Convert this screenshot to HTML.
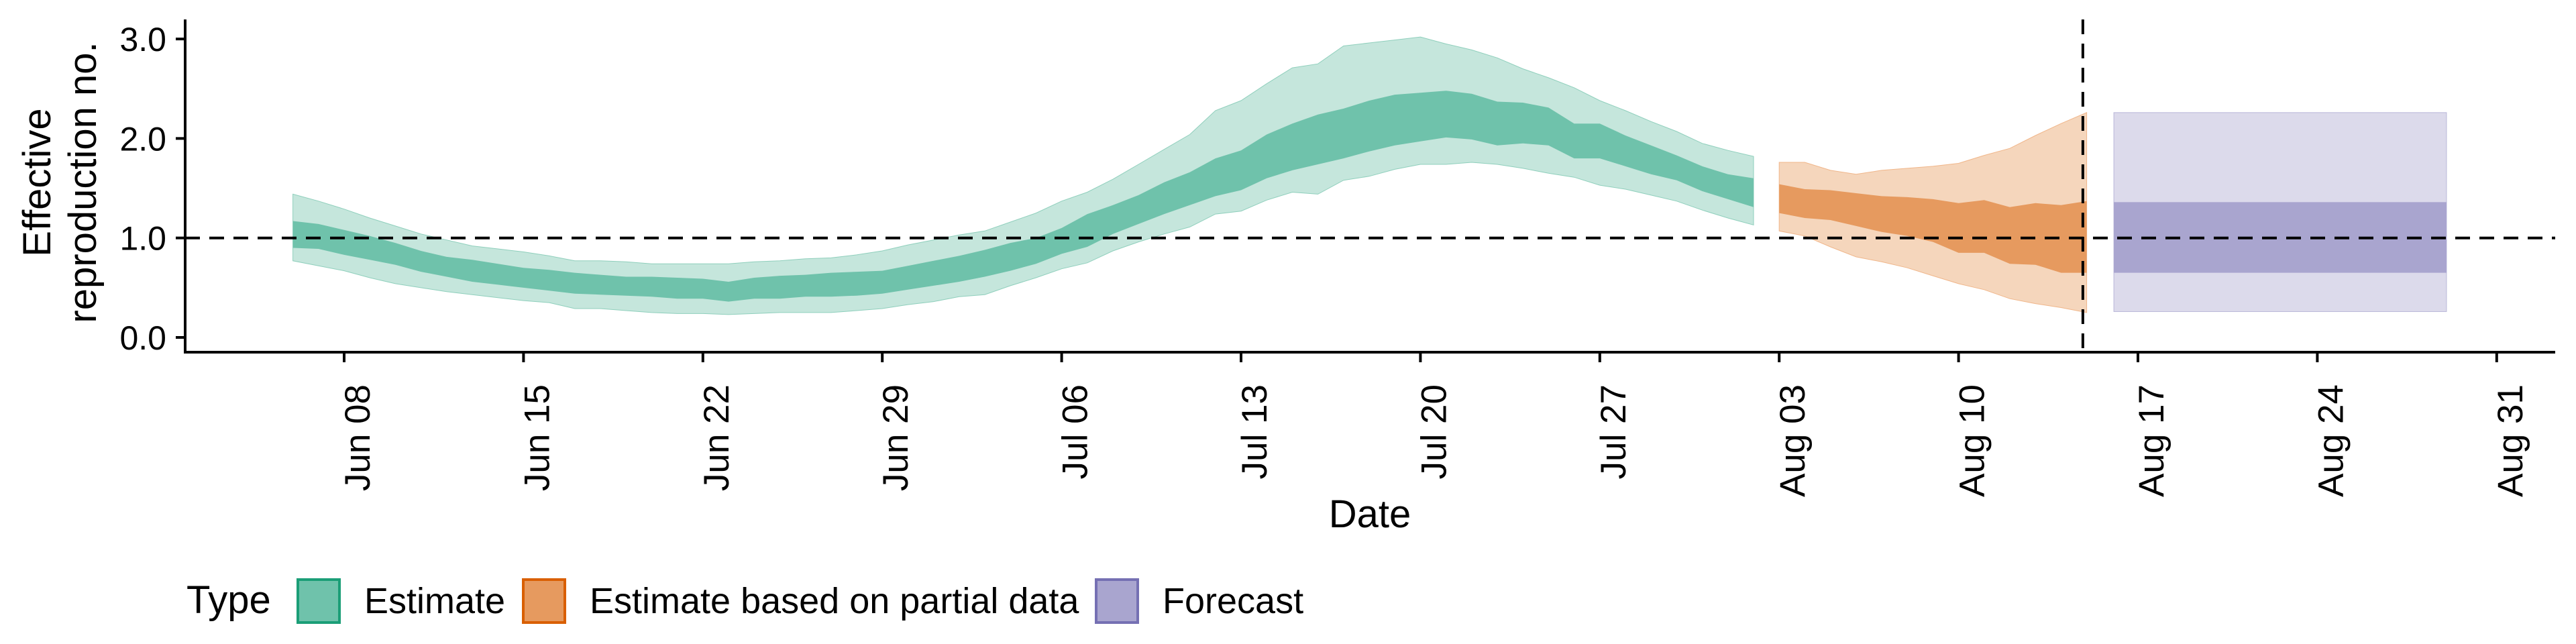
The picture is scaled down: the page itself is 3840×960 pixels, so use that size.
<!DOCTYPE html>
<html><head><meta charset="utf-8"><style>
html,body{margin:0;padding:0;background:#fff;}
svg{display:block;font-family:"Liberation Sans",sans-serif;}
</style></head><body>
<svg id="chart" width="3840" height="960" viewBox="0 0 3840 960" xmlns="http://www.w3.org/2000/svg">
<g id="plot"></g>
</svg>
<script>
// ---- data ----
const estDays = [-2,-1,0,1,2,3,4,5,6,7,8,9,10,11,12,13,14,15,16,17,18,19,20,21,22,23,24,25,26,27,28,29,30,31,32,33,34,35,36,37,38,39,40,41,42,43,44,45,46,47,48,49,50,51,52,53,54,55];
const estUpper90 = [1.44,1.37,1.29,1.20,1.12,1.04,0.98,0.92,0.89,0.86,0.82,0.77,0.77,0.76,0.74,0.74,0.74,0.74,0.76,0.77,0.79,0.80,0.83,0.87,0.93,0.98,1.03,1.07,1.16,1.25,1.37,1.46,1.59,1.74,1.89,2.04,2.28,2.38,2.55,2.71,2.75,2.93,2.96,2.99,3.02,2.95,2.89,2.81,2.70,2.61,2.51,2.38,2.28,2.17,2.07,1.95,1.88,1.82];
const estUpper50 = [1.17,1.14,1.08,1.02,0.95,0.87,0.81,0.78,0.74,0.70,0.68,0.65,0.63,0.61,0.61,0.60,0.59,0.56,0.60,0.62,0.63,0.65,0.66,0.67,0.72,0.77,0.82,0.88,0.95,1.00,1.10,1.24,1.33,1.43,1.56,1.66,1.80,1.88,2.04,2.15,2.24,2.30,2.38,2.44,2.46,2.48,2.45,2.37,2.36,2.31,2.15,2.15,2.03,1.93,1.83,1.72,1.64,1.60];
const estLower50 = [0.90,0.89,0.83,0.78,0.73,0.66,0.61,0.56,0.53,0.50,0.47,0.44,0.43,0.42,0.41,0.39,0.39,0.36,0.39,0.39,0.41,0.41,0.42,0.44,0.48,0.52,0.56,0.61,0.67,0.74,0.84,0.91,1.04,1.14,1.24,1.33,1.42,1.48,1.60,1.68,1.74,1.80,1.87,1.93,1.97,2.01,1.99,1.93,1.95,1.93,1.80,1.80,1.72,1.64,1.58,1.47,1.39,1.31];
const estLower90 = [0.77,0.72,0.67,0.60,0.54,0.50,0.46,0.43,0.40,0.37,0.35,0.29,0.29,0.27,0.25,0.24,0.24,0.23,0.24,0.25,0.25,0.25,0.27,0.29,0.33,0.36,0.41,0.43,0.52,0.60,0.69,0.75,0.87,0.96,1.04,1.11,1.24,1.27,1.38,1.46,1.44,1.58,1.62,1.69,1.74,1.74,1.76,1.74,1.70,1.65,1.61,1.53,1.49,1.43,1.37,1.28,1.20,1.13];
const partDays = [56,57,58,59,60,61,62,63,64,65,66,67,68];
const partUpper90 = [1.76,1.76,1.68,1.64,1.68,1.70,1.72,1.75,1.83,1.90,2.03,2.15,2.26];
const partUpper50 = [1.54,1.49,1.48,1.45,1.42,1.41,1.39,1.35,1.38,1.31,1.35,1.33,1.37];
const partLower50 = [1.25,1.20,1.18,1.12,1.06,1.02,0.96,0.85,0.85,0.74,0.73,0.65,0.65];
const partLower90 = [1.07,1.02,0.91,0.81,0.76,0.70,0.62,0.54,0.48,0.39,0.34,0.30,0.25];
const fcDays = [69.06,82.04];
const fcBands = [2.26,1.36,0.65,0.26]; // upper90, upper50, lower50, lower90
const tickDays = [0,7,14,21,28,35,42,49,56,63,70,77,84];
const tickLabels = ["Jun 08","Jun 15","Jun 22","Jun 29","Jul 06","Jul 13","Jul 20","Jul 27","Aug 03","Aug 10","Aug 17","Aug 24","Aug 31"];
const yTicks = [0,1,2,3];
const yTickLabels = ["0.0","1.0","2.0","3.0"];
const forecastDateDay = 67.85;
const refValue = 1;

// ---- scales ----
const X0 = 513, PXDAY = 38.2, Y0 = 503, PXUNIT = 148.3;
const AX_L = 276, AX_R = 3809, AX_T = 29, AX_B = 525;
function sx(d){return X0 + d*PXDAY;}
function sy(v){return Y0 - v*PXUNIT;}

const NS = "http://www.w3.org/2000/svg";
const g = document.getElementById('plot');
function mk(tag, attrs, parent){
  const e = document.createElementNS(NS, tag);
  for (const k in attrs) e.setAttribute(k, attrs[k]);
  (parent||g).appendChild(e);
  return e;
}
function bandPath(days, up, lo){
  let p = '';
  days.forEach((d,i)=>{ p += (i?'L':'M') + sx(d).toFixed(1) + ',' + sy(up[i]).toFixed(1); });
  for (let i = days.length-1; i>=0; i--) p += 'L' + sx(days[i]).toFixed(1) + ',' + sy(lo[i]).toFixed(1);
  return p + 'Z';
}

// estimate bands
let e1 = mk('path',{d:bandPath(estDays,estUpper90,estLower90),fill:'#c5e6dc',stroke:'#8fcfbc','stroke-width':1});


let e2 = mk('path',{d:bandPath(estDays,estUpper50,estLower50),fill:'#6fc2ab'});


// partial data bands
let p1 = mk('path',{d:bandPath(partDays,partUpper90,partLower90),fill:'#f5d6bc',stroke:'#f0b68a','stroke-width':1});


let p2 = mk('path',{d:bandPath(partDays,partUpper50,partLower50),fill:'#e69a5f'});


// forecast
let f1 = mk('rect',{x:sx(fcDays[0]),y:sy(fcBands[0]),width:sx(fcDays[1])-sx(fcDays[0]),height:sy(fcBands[3])-sy(fcBands[0]),fill:'#dcdaeb',stroke:'#b9b6d8','stroke-width':1});


let f2 = mk('rect',{x:sx(fcDays[0]),y:sy(fcBands[1]),width:sx(fcDays[1])-sx(fcDays[0]),height:sy(fcBands[2])-sy(fcBands[1]),fill:'#a9a5cf'});



// reference lines
let hl = mk('line',{x1:AX_L,x2:AX_R,y1:sy(refValue),y2:sy(refValue),stroke:'#000','stroke-width':4,'stroke-dasharray':'22,14'});


let vl = mk('line',{x1:sx(forecastDateDay),x2:sx(forecastDateDay),y1:AX_T,y2:AX_B,stroke:'#000','stroke-width':4,'stroke-dasharray':'22,14'});



// axes
let ya = mk('line',{x1:AX_L,x2:AX_L,y1:AX_T,y2:AX_B+2,stroke:'#000','stroke-width':4});


let xa = mk('line',{x1:AX_L-2,x2:AX_R,y1:AX_B,y2:AX_B,stroke:'#000','stroke-width':4});



yTicks.forEach((v,i)=>{
  const t = mk('line',{x1:AX_L-14,x2:AX_L,y1:sy(v),y2:sy(v),stroke:'#000','stroke-width':4});
  
  
  const l = mk('text',{x:AX_L-28,y:sy(v)+18,'text-anchor':'end','font-size':50,fill:'#000'});
  l.textContent = yTickLabels[i];
  
  
});
tickDays.forEach((d,i)=>{
  const t = mk('line',{x1:sx(d),x2:sx(d),y1:AX_B,y2:AX_B+15,stroke:'#000','stroke-width':4});
  
  
  const l = mk('text',{transform:`translate(${sx(d)+38},${AX_B+48}) rotate(-90)`,'text-anchor':'end','font-size':53,fill:'#000'});
  l.textContent = tickLabels[i];
  
  
});

// titles
let yt = mk('text',{transform:'translate(75,272) rotate(-90)','text-anchor':'middle','font-size':58,fill:'#000'});


let ts1 = mk('tspan',{x:0,dy:0},yt); ts1.textContent='Effective';
let ts2 = mk('tspan',{x:0,dy:68},yt); ts2.textContent='reproduction no.';
let xt = mk('text',{x:2042,y:786,'text-anchor':'middle','font-size':58,fill:'#000'});
xt.textContent='Date';



// legend
const lg = mk('g',{});


let lt = mk('text',{x:278,y:914,'font-size':58,fill:'#000'},lg);
lt.textContent='Type';


const legX = [444,780,1634];
const legFill = ['#6fc2ab','#e69a5f','#a9a5cf'];
const legStroke = ['#1b9e77','#d95f02','#7570b3'];
const legText = ['Estimate','Estimate based on partial data','Forecast'];
const legTextX = [543,879,1733];
legText.forEach((s,i)=>{
  const r = mk('rect',{x:legX[i],y:864,width:62,height:64,fill:legFill[i],stroke:legStroke[i],'stroke-width':4},lg);
  
  
  const t = mk('text',{x:legTextX[i],y:914,'font-size':54,fill:'#000'},lg);
  t.textContent = s;
  
  
});
</script>
</body></html>
